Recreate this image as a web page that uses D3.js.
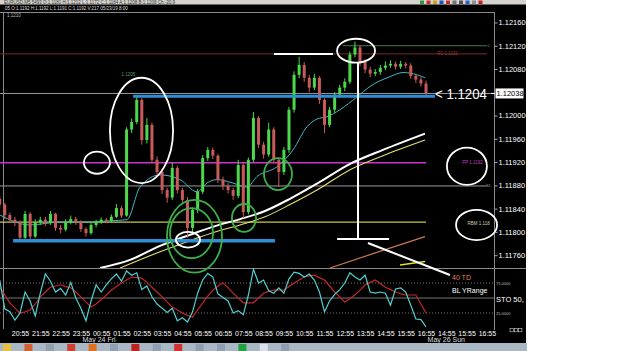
<!DOCTYPE html>
<html><head><meta charset="utf-8">
<script src="https://cdn.jsdelivr.net/npm/d3@7"></script>
<style>html,body{margin:0;padding:0;background:#fff;overflow:hidden}svg{display:block}</style>
</head><body>
<svg id="c" width="625" height="351"></svg>
<script>
// ---------- DATA (15-minute candles, hour 0 = 20:55 May 23) ----------
const firstOpen = 1.11857;
const closes = [1.11847,1.11829,1.11821,1.11817,1.11790,1.11831,1.11792,1.11817,1.11821,1.11816,
 1.11831,1.11807,1.11804,1.11817,1.11822,1.11817,1.11805,1.11798,1.11812,1.11817,
 1.11821,1.11819,1.11826,1.11841,1.11828,1.11976,1.11989,1.12027,1.11958,1.11984,
 1.11924,1.11903,1.11872,1.11859,1.11910,1.11872,1.11855,1.11807,1.11838,1.11869,
 1.11927,1.11941,1.11931,1.11890,1.11879,1.11872,1.11862,1.11915,1.11834,1.11924,
 1.11996,1.11950,1.11933,1.11976,1.11924,1.11903,1.11941,1.12010,1.12070,1.12087,
 1.12065,1.12048,1.12065,1.12027,1.11984,1.12010,1.12036,1.12048,1.12058,1.12105,
 1.12117,1.12092,1.12079,1.12072,1.12075,1.12082,1.12086,1.12089,1.12084,1.12089,
 1.12086,1.12068,1.12062,1.12055,1.12038];
const highs = [1.11862,1.11850,1.11833,1.11826,1.11820,1.11836,1.11834,1.11822,1.11826,1.11826,
 1.11836,1.11833,1.11812,1.11822,1.11828,1.11826,1.11820,1.11808,1.11816,1.11821,
 1.11825,1.11824,1.11830,1.11848,1.11845,1.11980,1.11995,1.12034,1.12030,1.11996,
 1.11988,1.11930,1.11908,1.11876,1.11919,1.11914,1.11876,1.11860,1.11842,1.11874,
 1.11932,1.11946,1.11945,1.11934,1.11895,1.11884,1.11876,1.11924,1.11918,1.11928,
 1.12006,1.11999,1.11955,1.11988,1.11980,1.11928,1.11946,1.12015,1.12076,1.12101,
 1.12092,1.12070,1.12072,1.12068,1.12030,1.12015,1.12040,1.12053,1.12064,1.12110,
 1.12127,1.12120,1.12097,1.12084,1.12080,1.12087,1.12093,1.12095,1.12093,1.12094,
 1.12092,1.12090,1.12072,1.12066,1.12060];
const lows = [1.11840,1.11822,1.11815,1.11810,1.11783,1.11788,1.11785,1.11790,1.11812,1.11810,
 1.11812,1.11802,1.11798,1.11801,1.11813,1.11812,1.11800,1.11792,1.11795,1.11808,
 1.11814,1.11815,1.11816,1.11824,1.11824,1.11826,1.11970,1.11985,1.11950,1.11952,
 1.11918,1.11895,1.11865,1.11850,1.11855,1.11866,1.11848,1.11790,1.11800,1.11832,
 1.11865,1.11922,1.11925,1.11884,1.11872,1.11866,1.11855,1.11858,1.11824,1.11830,
 1.11920,1.11944,1.11926,1.11929,1.11918,1.11877,1.11898,1.11936,1.12005,1.12064,
 1.12058,1.12040,1.12044,1.12020,1.11970,1.11980,1.12005,1.12030,1.12042,1.12054,
 1.12100,1.12085,1.12073,1.12066,1.12068,1.12070,1.12078,1.12082,1.12079,1.12080,
 1.12081,1.12063,1.12056,1.12050,1.12034];
const stochK = [80,32,27,13,25,60,45,20,58,90,
 78,60,66,55,76,50,33,12,45,72,
 60,72,82,90,78,95,88,92,64,70,
 52,40,33,26,33,12,17,10,27,58,
 80,91,85,57,51,45,25,29,22,55,
 98,75,80,62,58,67,58,82,93,91,
 85,90,80,60,27,45,56,64,75,92,
 85,80,88,60,58,60,58,38,65,67,
 60,38,15,14,2];
const stochD = [68,55,42,33,25,27,30,40,52,60,
 68,70,72,69,67,60,52,43,35,40,
 47,55,63,69,75,80,85,84,83,76,
 68,60,52,43,35,30,25,21,18,30,
 42,53,63,70,75,67,58,50,42,42,
 42,50,58,61,63,63,63,69,75,80,
 85,87,88,84,80,70,60,52,43,49,
 55,63,72,76,80,74,68,64,60,57,
 55,55,55,40,25];
const cyanMAHours = [-0.99,0.49,1.97,3.45,4.43,5.27,5.91,6.90,7.88,8.72,9.21,9.70,10.49,11.18,11.67,12.66,13.45,14.14,14.63,15.12,15.76,16.60,17.24,18.23,18.87,19.56,19.95];
const cyanMA = [1.11829,1.11812,1.11817,1.11817,1.11819,1.11821,1.11877,1.11898,1.11890,1.11869,1.11884,1.11890,1.11884,1.11877,1.11895,1.11912,1.11941,1.11981,1.11994,1.11998,1.12010,1.12032,1.12050,1.12067,1.12074,1.12070,1.12065];
const whiteMAHours = [3.94,5.42,6.90,8.37,9.61,10.84,12.07,13.30,14.63,16.26,17.88,19.95];
const whiteMA = [1.11738,1.11752,1.11776,1.11795,1.11810,1.11822,1.11836,1.11857,1.11883,1.11917,1.11941,1.11969];
const yellowMAHours = [4.93,6.90,8.37,9.61,10.84,12.07,13.30,14.63,16.26,17.88,19.95];
const yellowMA = [1.11738,1.11766,1.11785,1.11800,1.11812,1.11826,1.11847,1.11872,1.11907,1.11931,1.11958];
const orangeMAHours = [15.27,17.5,19.95];
const orangeMA = [1.11738,1.11764,1.11792];
const limeMAHours = [18.72,19.95];
const limeMA = [1.11743,1.11749];

const xLabels = ["20:55","21:55","22:55","23:55","00:55","01:55","02:55","03:55","04:55","05:55","06:55","07:55","08:55","09:55","10:55","11:55","12:55","13:55","14:55","15:55","16:55","14:55","15:55","16:55"];
const xTickHours = [0,1,2,3,4,5,6,7,8,9,10,11,12,13,14,15,16,17,18,19,20,21,22,23];
const dateLabels = ["May 24 Fri","May 26 Sun"];
const dateHours = [3.08,20.08];
const yTicks = [1.12160,1.12120,1.12080,1.12000,1.11960,1.11920,1.11880,1.11840,1.11800,1.11760];

const currentPrice = 1.12038;
const r1Level = 1.12106;
const highLevel = 1.12120;
const resistanceLevel = 1.12033;
const pivotLevel = 1.11919;
const s1Level = 1.11879;
const yellowLevel = 1.11817;
const supportLevel = 1.11785;

// annotation boxes [hourStart, hourEnd, priceTop, priceBottom]
const whiteEllipses = [[4.43,7.54,1.12065,1.11884],[3.15,4.43,1.11938,1.11900],[7.68,8.87,1.11800,1.11773],[15.62,17.49,1.12132,1.12091],[21.03,23.0,1.11945,1.11881],[21.48,23.50,1.11838,1.11786]];
const greenEllipses = [[7.24,9.95,1.11855,1.11730],[7.39,9.51,1.11841,1.11755],[10.44,11.63,1.11848,1.11800],[12.02,13.40,1.11927,1.11872]];
// segments [h1, p1, h2, p2]
const whiteSegments = [[12.51,1.12106,15.42,1.12106],[16.65,1.12092,16.65,1.11788],[15.62,1.11788,18.18,1.11788],[17.14,1.11781,21.18,1.11726]];

// ---------- DRAW ----------
const svg = d3.select("#c");
const FONT = "'Liberation Sans',Arial,sans-serif";
const x = d3.scaleLinear().domain([-1,23]).range([-0.3,486.9]);
const y = d3.scaleLinear().domain([1.11738,1.12178]).range([268,12]);
const ys = d3.scaleLinear().domain([0,100]).range([328,268]);
const candleHour = i => -1 + i*0.25;

svg.append("rect").attr("width",625).attr("height",351).attr("fill","#fff");
svg.append("rect").attr("x",0).attr("y",0).attr("width",526).attr("height",343).attr("fill","#000");
svg.append("rect").attr("x",0).attr("y",0).attr("width",526).attr("height",4.5).attr("fill","#d6d3ce");
svg.append("text").attr("x",4).attr("y",3.8).attr("fill","#333").style("font","4.5px "+FONT)
  .text("EURUSD,M5  5493  O:1.1181  H:1.1212  L:1.1172  C:1.1184  A:1.1208  B:1.1208  Ch:-20.9");
const topIcons = ["#3a8f3a","#c03030","#d0a020","#2050c0","#c03030","#707070","#505050","#3060c0","#909090","#c02020"];
topIcons.forEach((c,i)=>svg.append("rect").attr("x",420+i*6.5).attr("y",0.5).attr("width",4).attr("height",3.5).attr("fill",c));
svg.append("text").attr("x",5).attr("y",9.5).attr("fill","#ddd").style("font","4.5px "+FONT)
  .text("05  O:1.1192  H:1.1192  L:1.1191  C:1.1192  V:217  05/23/19  8:00");

const defs = svg.append("defs");
defs.append("clipPath").attr("id","mainClip").append("rect").attr("x",0).attr("y",12).attr("width",494).attr("height",256);
defs.append("clipPath").attr("id","stoClip").append("rect").attr("x",0).attr("y",268).attr("width",494).attr("height",60);

// frame
const frame = svg.append("g").attr("stroke","#8a8a8a").attr("stroke-width",1);
frame.append("line").attr("x1",0).attr("x2",494).attr("y1",12.5).attr("y2",12.5);
frame.append("line").attr("x1",3.5).attr("x2",3.5).attr("y1",12).attr("y2",329);
frame.append("line").attr("x1",494.5).attr("x2",494.5).attr("y1",12).attr("y2",330);
frame.append("line").attr("x1",0).attr("x2",526).attr("y1",268.5).attr("y2",268.5);

const main = svg.append("g").attr("clip-path","url(#mainClip)");
// thin level lines
function hline(g,p,h1,h2,color,w,dash){
  g.append("line").attr("x1",x(h1)).attr("x2",x(h2)).attr("y1",y(p)).attr("y2",y(p))
   .attr("stroke",color).attr("stroke-width",w).attr("stroke-dasharray",dash||null);
}
hline(main,r1Level,-1,23,"#7a2a2a",1);
hline(main,highLevel,15.91,23,"#4a7a4a",1);
hline(main,currentPrice,-1,23.5,"#9a9a9a",1);
hline(main,pivotLevel,-1,20,"#d030d0",1.5);
hline(main,s1Level,-1,23,"#9a9a9a",1);
hline(main,yellowLevel,-1,20,"#c8c848",1.3);

// moving averages
const lineGen = (hs)=>d3.line().x((d,i)=>x(hs[i])).y(d=>y(d)).curve(d3.curveMonotoneX);
main.append("path").attr("d",lineGen(orangeMAHours)(orangeMA)).attr("fill","none").attr("stroke","#c87850").attr("stroke-width",1.2);
main.append("path").attr("d",lineGen(limeMAHours)(limeMA)).attr("fill","none").attr("stroke","#e0e020").attr("stroke-width",1.5);
main.append("path").attr("d",lineGen(yellowMAHours)(yellowMA)).attr("fill","none").attr("stroke","#e8e070").attr("stroke-width",1.1);
main.append("path").attr("d",lineGen(whiteMAHours)(whiteMA)).attr("fill","none").attr("stroke","#ffffff").attr("stroke-width",2);
main.append("path").attr("d",lineGen(cyanMAHours)(cyanMA)).attr("fill","none").attr("stroke","#40b8c8").attr("stroke-width",1);

// candles
const candles = closes.map((c,i)=>({h:candleHour(i),o:i===0?firstOpen:closes[i-1],c:c,hi:highs[i],lo:lows[i]}));
const cg = main.append("g");
candles.forEach(d=>{
  const up = d.c>=d.o; const col = up?"#4cd84c":"#c85a5a";
  const cx = x(d.h);
  cg.append("line").attr("x1",cx).attr("x2",cx).attr("y1",y(d.hi)).attr("y2",y(d.lo)).attr("stroke",col).attr("stroke-width",1);
  const top = y(Math.max(d.o,d.c)), bot = y(Math.min(d.o,d.c));
  cg.append("rect").attr("x",cx-1.5).attr("y",top).attr("width",3).attr("height",Math.max(1,bot-top)).attr("fill",col);
});

// thick blue lines
hline(main,resistanceLevel,5.57,20.44,"#2f8fd6",3);
hline(main,supportLevel,-0.34,12.56,"#2f8fd6",3.5);

// annotations
const ann = svg.append("g").attr("fill","none");
whiteEllipses.forEach(b=>ann.append("ellipse").attr("cx",(x(b[0])+x(b[1]))/2).attr("cy",(y(b[2])+y(b[3]))/2)
  .attr("rx",(x(b[1])-x(b[0]))/2).attr("ry",(y(b[3])-y(b[2]))/2).attr("stroke","#fff").attr("stroke-width",1.8));
greenEllipses.forEach(b=>ann.append("ellipse").attr("cx",(x(b[0])+x(b[1]))/2).attr("cy",(y(b[2])+y(b[3]))/2)
  .attr("rx",(x(b[1])-x(b[0]))/2).attr("ry",(y(b[3])-y(b[2]))/2).attr("stroke","#3cb046").attr("stroke-width",1.8));
whiteSegments.forEach(s=>ann.append("line").attr("x1",x(s[0])).attr("y1",y(s[1])).attr("x2",x(s[2])).attr("y2",y(s[3]))
  .attr("stroke","#fff").attr("stroke-width",2));

// small labels
function lbl(tx,ty,t,col,size,extra){
  const e = svg.append("text").attr("x",tx).attr("y",ty).attr("fill",col).style("font",size+"px "+FONT).text(t);
  if(extra) extra(e); return e;
}
lbl(7,17,"1.1210","#bbb",4.5);
lbl(x(5.0),y(1.12070)+1,"1.1205","#5a9a5a",4.5);
lbl(x(20.55),y(r1Level)+1.5,"R1 1.1211","#a03a3a",4.5);
lbl(x(23.0)+0.5,y(highLevel)+1.5,"0","#6a8a6a",4);
lbl(x(21.5),y(pivotLevel)+1.5,"\u2190 PP 1.1192","#c040c0",4.5);
lbl(x(23.0)-1,y(s1Level)+1.5,"S1","#9a9a9a",4);
lbl(x(22.05),y(1.11815)+1.5,"RBM 1.118","#cfcf9f",4.5);
lbl(435,99,"< 1.1204","#fff",14,e=>e.attr("textLength",52).attr("lengthAdjust","spacingAndGlyphs"));
lbl(452,279.5,"40 TD","#e08060",7);
lbl(452,293,"BL YRange","#fff",7);

// stochastic panel
const sto = svg.append("g").attr("clip-path","url(#stoClip)");
sto.append("line").attr("x1",0).attr("x2",494).attr("y1",ys(75)).attr("y2",ys(75)).attr("stroke","#777").attr("stroke-dasharray","1,2");
sto.append("line").attr("x1",0).attr("x2",494).attr("y1",ys(50)).attr("y2",ys(50)).attr("stroke","#777");
sto.append("line").attr("x1",0).attr("x2",494).attr("y1",ys(25)).attr("y2",ys(25)).attr("stroke","#777").attr("stroke-dasharray","1,2");
const sLine = d3.line().x((d,i)=>x(candleHour(i))).y(d=>ys(d));
sto.append("path").attr("d",sLine(stochD)).attr("fill","none").attr("stroke","#c02828").attr("stroke-width",1.2);
sto.append("path").attr("d",sLine(stochK)).attr("fill","none").attr("stroke","#50d0d0").attr("stroke-width",1.2);
lbl(496,ys(75)+1.5,"75.0000","#bbb",4);
lbl(496,ys(25)+1.5,"25.0000","#bbb",4);
lbl(496,ys(50)+3.5,"STO  50,","#fff",7.5);

// re-draw green circle part spilling into stoch panel & diagonal already drawn on top
// axes
const gy = svg.append("g").attr("transform","translate(494.5,0)")
  .call(d3.axisRight(y).tickValues(yTicks).tickFormat(d3.format(".5f")).tickSize(3).tickPadding(1));
gy.select(".domain").remove();
gy.selectAll("line").attr("stroke","#aaa");
gy.selectAll("text").attr("fill","#fff").style("font","7.5px "+FONT);
svg.append("rect").attr("x",495.5).attr("y",y(currentPrice)-5).attr("width",28).attr("height",10).attr("fill","#fff");
lbl(496.5,y(currentPrice)+2.7,"1.12038","#000",7.5);
svg.append("line").attr("x1",491).attr("x2",495).attr("y1",y(currentPrice)).attr("y2",y(currentPrice)).attr("stroke","#fff");

const gx = svg.append("g").attr("transform","translate(0,328)")
  .call(d3.axisBottom(x).tickValues(xTickHours).tickFormat((d,i)=>xLabels[i]).tickSize(0).tickPadding(3));
gx.select(".domain").remove();
gx.selectAll("text").attr("fill","#fff").style("font","7px "+FONT);
dateLabels.forEach((t,i)=>lbl(x(dateHours[i]),342,t,"#ddd",7));
[0,1,2].forEach(k=>svg.append("rect").attr("x",510+k*4.3).attr("y",328.5).attr("width",3.3).attr("height",3.3).attr("fill","none").attr("stroke","#ccc").attr("stroke-width",0.6));

// taskbar
const tb = svg.append("g");
tb.append("rect").attr("x",0).attr("y",343).attr("width",527).attr("height",8).attr("fill","#a9b8c4");
const tbIcons = ["#e8c040","#d06030","#8fa0b0","#d04030","#e07020","#8fa0b0","#c02020","#8fa0b0","#d03030","#8fa0b0","#8fa0b0","#20a040","#d8e0f0","#8fa0b0"];
tbIcons.forEach((c,i)=>tb.append("rect").attr("x",3+i*21.4).attr("y",344).attr("width",8).attr("height",7).attr("fill",c));
</script>
</body></html>
